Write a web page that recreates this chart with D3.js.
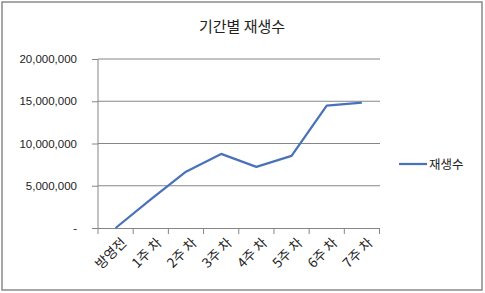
<!DOCTYPE html>
<html>
<head>
<meta charset="utf-8">
<script src="https://cdn.jsdelivr.net/npm/d3@7"></script>
<style>
    body { margin: 0; background: #fff; }
    svg { display: block; font-family: "Noto Sans CJK KR", "DejaVu Sans", sans-serif; }
</style>
</head>
<body>
<svg id="chart" width="485" height="293"></svg>
<script>
const categories = ['방영전', '1주 차', '2주 차', '3주 차', '4주 차', '5주 차', '6주 차', '7주 차'];
const plays = [0, 3400000, 6670000, 8770000, 7230000, 8530000, 14490000, 14850000];
const yTicks = [0, 5000000, 10000000, 15000000, 20000000];
const seriesName = '재생수';
const title = '기간별 재생수';

const svg = d3.select('#chart');
const margin = {left: 98, right: 105, top: 59, bottom: 65};

// outer frame
svg.append('rect')
    .attr('x', 2).attr('y', 2)
    .attr('width', 480).attr('height', 288)
    .attr('fill', '#fff')
    .attr('stroke', '#8a8a8a')
    .attr('stroke-width', 1.5);

svg.append('text')
    .attr('x', 242).attr('y', 32)
    .attr('text-anchor', 'middle')
    .attr('font-size', 15)
    .attr('fill', '#222')
    .text(title);

const x = d3.scaleBand()
    .domain(categories)
    .range([margin.left, 379.5]);

const y = d3.scaleLinear()
    .domain([0, 20000000])
    .range([228, margin.top]);

// gridlines
svg.append('g')
    .selectAll('line')
    .data(yTicks.slice(1))
    .enter().append('line')
    .attr('x1', margin.left).attr('x2', 380)
    .attr('y1', d => y(d)).attr('y2', d => y(d))
    .attr('stroke', '#868686')
    .attr('stroke-width', 1);

const fmt = d3.format(',');
const yAxis = svg.append('g')
    .attr('transform', `translate(${margin.left},0)`)
    .call(d3.axisLeft(y).tickValues(yTicks).tickSize(6).tickPadding(15)
        .tickFormat(d => d === 0 ? '-' : fmt(d)));
yAxis.select('.domain').attr('stroke', '#868686').attr('d', `M0,${y(0) + 0.5}V${y(20000000)}`);
yAxis.selectAll('.tick line').attr('stroke', '#868686');
yAxis.selectAll('text')
    .attr('font-size', 11.5)
    .attr('fill', '#222')
    .attr('font-family', '"Liberation Sans", Arial, sans-serif');

const xAxis = svg.append('g')
    .attr('transform', `translate(0,${y(0)})`)
    .call(d3.axisBottom(x).tickSize(0).tickFormat(''));
xAxis.select('.domain').attr('stroke', '#868686').attr('d', `M${margin.left - 6},0.5H380`);

// category tick marks between bands
svg.append('g')
    .selectAll('line')
    .data(categories.concat(['end']))
    .enter().append('line')
    .attr('x1', (d, i) => margin.left + i * x.step())
    .attr('x2', (d, i) => margin.left + i * x.step())
    .attr('y1', y(0)).attr('y2', y(0) + 6)
    .attr('stroke', '#868686');

svg.append('g')
    .selectAll('text')
    .data(categories)
    .enter().append('text')
    .attr('transform', d => `translate(${x(d) + x.bandwidth() / 2 + 5},${y(0) + 9}) rotate(-45)`)
    .attr('text-anchor', 'end')
    .attr('dy', '0.7em')
    .attr('font-size', 13.5)
    .attr('fill', '#222')
    .text(d => d);

const line = d3.line()
    .x((d, i) => x(categories[i]) + x.bandwidth() / 2)
    .y(d => y(d));

svg.append('path')
    .datum(plays)
    .attr('d', line)
    .attr('fill', 'none')
    .attr('stroke', '#4a72b8')
    .attr('stroke-width', 2.25)
    .attr('stroke-linejoin', 'round');

// legend
svg.append('line')
    .attr('x1', 399).attr('x2', 427)
    .attr('y1', 164).attr('y2', 164)
    .attr('stroke', '#4a72b8')
    .attr('stroke-width', 2.25);
svg.append('text')
    .attr('x', 429).attr('y', 168.5)
    .attr('font-size', 12.5)
    .attr('fill', '#222')
    .text(seriesName);
</script>
</body>
</html>
